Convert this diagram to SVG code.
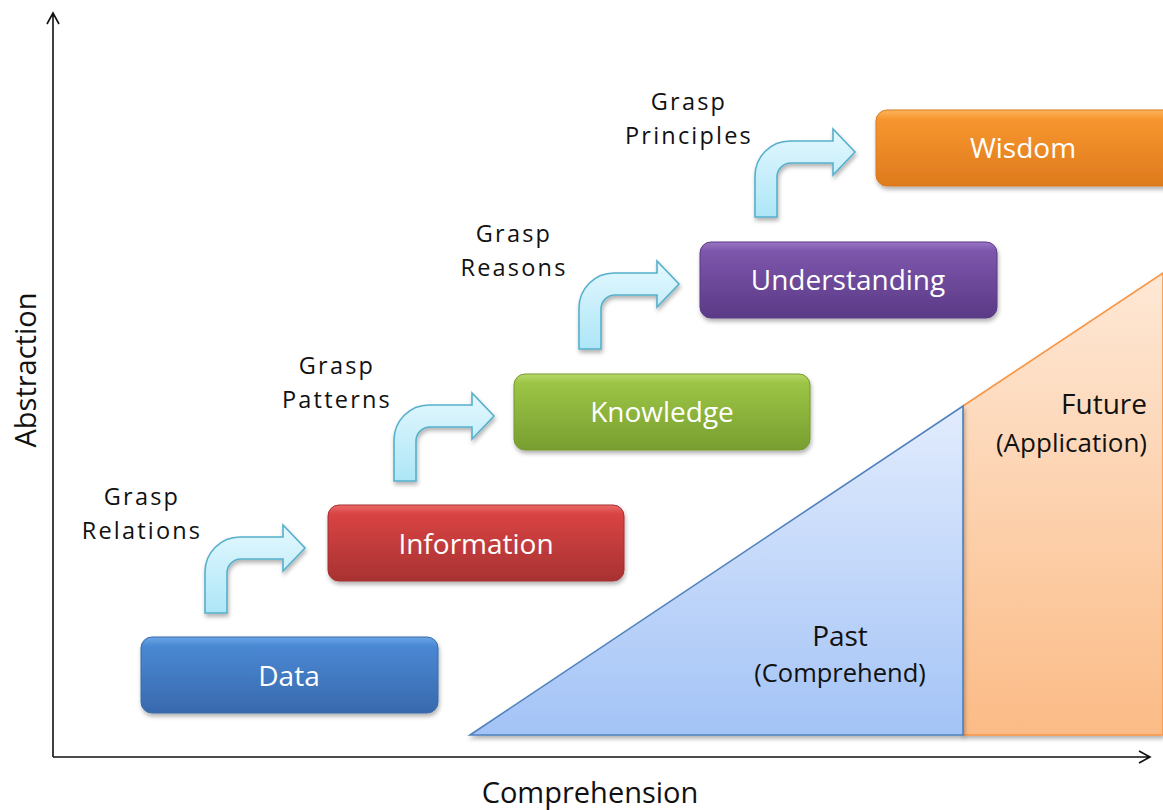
<svg xmlns="http://www.w3.org/2000/svg" width="1163" height="810" viewBox="0 0 1163 810">
<defs>
<style>
.lbl{font-family:"Open Sans","Noto Sans",sans-serif;font-size:23.5px;fill:#111;letter-spacing:2.2px;text-anchor:middle}
.box{font-family:"Open Sans","Noto Sans",sans-serif;font-size:28px;fill:#fff;text-anchor:middle}
.ax{font-family:"Open Sans","Noto Sans",sans-serif;font-size:28px;fill:#111;text-anchor:middle}
.bend{fill:url(#gArrow);stroke:#56b0cc;stroke-width:1.6;filter:url(#sh)}
.axis{stroke:#111;stroke-width:1.6;fill:none}
</style>
<filter id="sh" x="-10%" y="-10%" width="130%" height="140%">
<feDropShadow dx="1" dy="3" stdDeviation="2.2" flood-color="#000" flood-opacity="0.3"/>
</filter>
<linearGradient id="gArrow" x1="0" y1="0" x2="0" y2="1">
<stop offset="0" stop-color="#e4f8fe"/><stop offset="1" stop-color="#ade6f7"/>
</linearGradient>
<linearGradient id="gBlue" x1="0" y1="0" x2="0" y2="1">
<stop offset="0" stop-color="#6aa6e6"/><stop offset="0.12" stop-color="#4a88d3"/><stop offset="1" stop-color="#3869ad"/>
</linearGradient>
<linearGradient id="gRed" x1="0" y1="0" x2="0" y2="1">
<stop offset="0" stop-color="#ec6a6a"/><stop offset="0.12" stop-color="#d94343"/><stop offset="1" stop-color="#a83232"/>
</linearGradient>
<linearGradient id="gGreen" x1="0" y1="0" x2="0" y2="1">
<stop offset="0" stop-color="#b6d86a"/><stop offset="0.12" stop-color="#9cc546"/><stop offset="1" stop-color="#789e2f"/>
</linearGradient>
<linearGradient id="gPurple" x1="0" y1="0" x2="0" y2="1">
<stop offset="0" stop-color="#9a76c4"/><stop offset="0.12" stop-color="#7c56ab"/><stop offset="1" stop-color="#5b3a86"/>
</linearGradient>
<linearGradient id="gOrange" x1="0" y1="0" x2="0" y2="1">
<stop offset="0" stop-color="#fdb55e"/><stop offset="0.12" stop-color="#f7962f"/><stop offset="1" stop-color="#de7a1c"/>
</linearGradient>
<linearGradient id="gPast" x1="0" y1="0" x2="0" y2="1">
<stop offset="0" stop-color="#e2ecfd"/><stop offset="1" stop-color="#a3c3f6"/>
</linearGradient>
<linearGradient id="gFut" x1="0" y1="0" x2="0" y2="1">
<stop offset="0" stop-color="#fee8d6"/><stop offset="1" stop-color="#fbbb86"/>
</linearGradient>
<path id="bent" d="M0,65 L0,24 A35,35 0 0 1 35,-11 L78,-11 L78,-23 L100,0 L78,23 L78,11 L36,11 A14,14 0 0 0 22,25 L22,65 Z"/>
</defs>
<rect width="1163" height="810" fill="#fff"/>

<g id="future">
<polygon points="963,406 1163,273 1163,735 963,735" fill="url(#gFut)" stroke="#f79646" stroke-width="1.6" filter="url(#sh)"/>
<text class="ax" x="1147" y="414" style="text-anchor:end">Future</text>
<text class="ax" x="1147" y="452" style="text-anchor:end;font-size:26px">(Application)</text>
</g>
<g id="past">
<polygon points="470,735 963,406 963,735" fill="url(#gPast)" stroke="#4f81bd" stroke-width="1.6" filter="url(#sh)"/>
<text class="ax" x="840" y="646">Past</text>
<text class="ax" x="840" y="682" style="font-size:25.5px">(Comprehend)</text>
</g>

<g id="axes">
<path class="axis" d="M53,757 L53,13 M47,24 L53,13 L59,24"/>
<path class="axis" d="M53,757 L1150,757 M1139,751 L1150,757 L1139,763"/>
<text class="ax" x="590" y="803" style="font-size:29px">Comprehension</text>
<text class="ax" transform="translate(36,370) rotate(-90)" style="font-size:29px">Abstraction</text>
</g>

<g id="connectors">
<use href="#bent" class="bend" x="205" y="548"/>
<use href="#bent" class="bend" x="394" y="416"/>
<use href="#bent" class="bend" x="579" y="284"/>
<use href="#bent" class="bend" x="755" y="152"/>
<text class="lbl" x="142" y="505">Grasp</text>
<text class="lbl" x="142" y="539">Relations</text>
<text class="lbl" x="337" y="374">Grasp</text>
<text class="lbl" x="337" y="408">Patterns</text>
<text class="lbl" x="514" y="242">Grasp</text>
<text class="lbl" x="514" y="276">Reasons</text>
<text class="lbl" x="689" y="110">Grasp</text>
<text class="lbl" x="689" y="144">Principles</text>
</g>

<g id="data">
<rect x="141" y="637" width="297" height="76" rx="11" fill="url(#gBlue)" stroke="#3a6aa8" stroke-width="1" filter="url(#sh)"/>
<text class="box" x="289" y="686">Data</text>
</g>
<g id="information">
<rect x="328" y="505" width="296" height="76" rx="11" fill="url(#gRed)" stroke="#a33030" stroke-width="1" filter="url(#sh)"/>
<text class="box" x="476" y="554">Information</text>
</g>
<g id="knowledge">
<rect x="514" y="374" width="296" height="76" rx="11" fill="url(#gGreen)" stroke="#76982f" stroke-width="1" filter="url(#sh)"/>
<text class="box" x="662" y="422">Knowledge</text>
</g>
<g id="understanding">
<rect x="700" y="242" width="297" height="76" rx="11" fill="url(#gPurple)" stroke="#5a3a84" stroke-width="1" filter="url(#sh)"/>
<text class="box" x="848" y="290">Understanding</text>
</g>
<g id="wisdom">
<rect x="876" y="110" width="310" height="76" rx="11" fill="url(#gOrange)" stroke="#d87a20" stroke-width="1" filter="url(#sh)"/>
<text class="box" x="1023" y="158">Wisdom</text>
</g>
</svg>
